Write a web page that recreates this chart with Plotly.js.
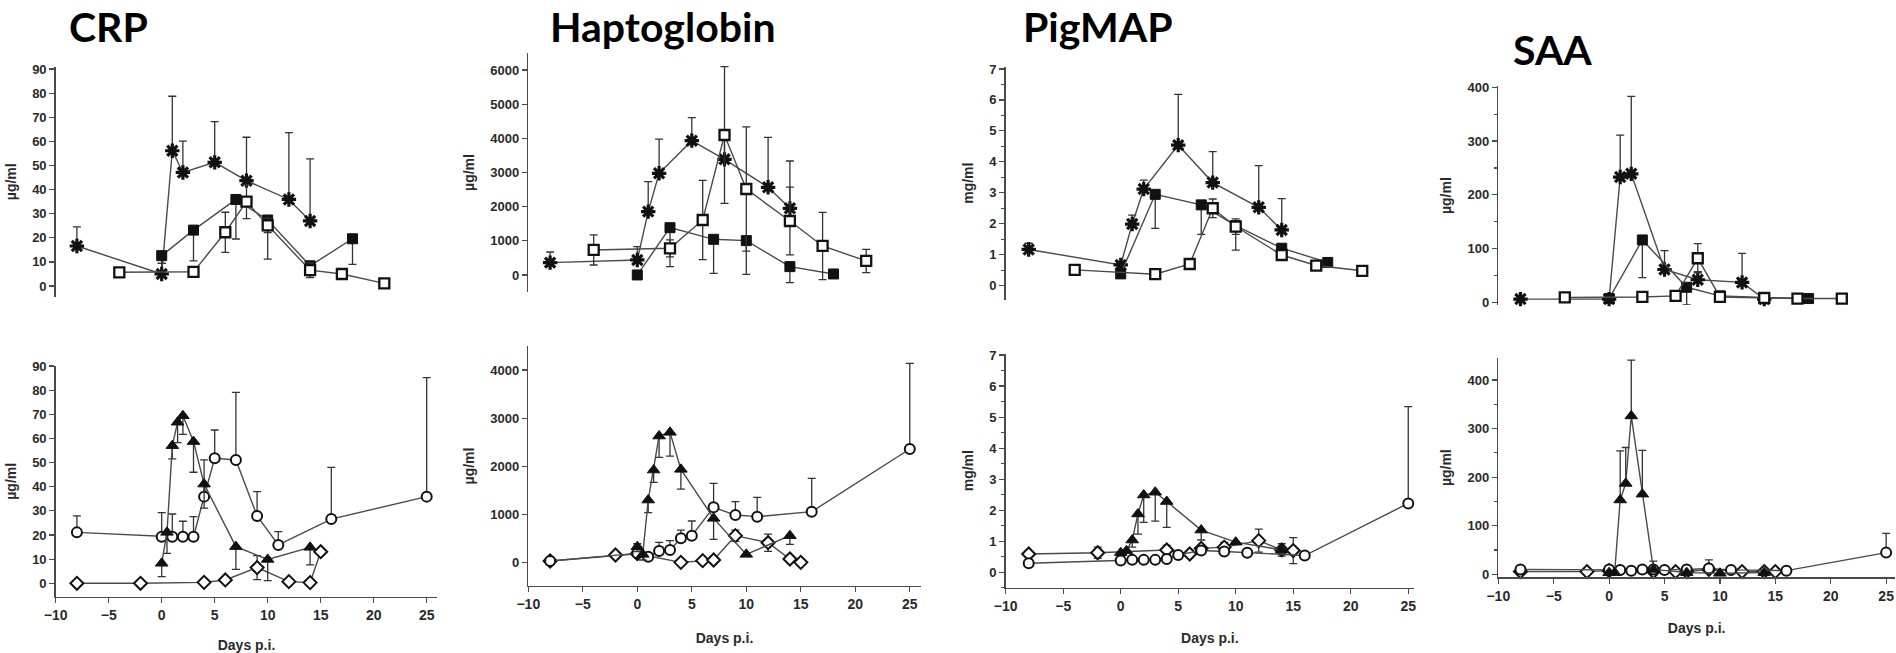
<!DOCTYPE html>
<html>
<head>
<meta charset="utf-8">
<script src="https://cdn.plot.ly/plotly-3.0.1.min.js"></script>
<style>html,body{margin:0;padding:0;background:#fff;}#chart{width:1896px;height:653px;}</style>
</head>
<body>
<div id="chart"></div>
<script>
// ---------------- DATA ----------------
const panelTitles = ["CRP", "Haptoglobin", "PigMAP", "SAA"];
const yUnits = ["µg/ml", "µg/ml", "mg/ml", "µg/ml"];
const xTitle = "Days p.i.";
const xTickVals = [-10, -5, 0, 5, 10, 15, 20, 25];

// Top row: star series
const starX = [-8, 0, 1, 2, 5, 8, 12, 14];
const crpStarY = [16.6, 5.0, 56.1, 47.1, 51.3, 43.7, 35.9, 27.0];
const crpStarErr = [7.9, 4.4, 22.6, 13.0, 16.9, 18.0, 27.7, 25.7];
const hapStarY = [361, 439, 1854, 2976, 3932, 3385, 2566, 1951];
const hapStarErr = [312, 390, 878, 1004, 673, 600, 1463, 1386];
const pigStarY = [1.17, 0.67, 1.99, 3.12, 4.54, 3.33, 2.53, 1.80];
const pigStarErr = [0.2, 0.05, 0.29, 0.29, 1.64, 1.0, 1.35, 1.01];
const saaStarY = [6, 6, 233, 239, 61, 42, 37, 6];
const saaStarErr = [0, 0, 78, 144, 35, 15, 54, 0];

// Top row: filled-square series
const fsqX = [0, 3, 7, 10, 14, 18];
const crpFsqY = [12.6, 23.2, 35.9, 27.4, 8.4, 19.6];
const crpFsqErr = [3.2, 12.8, 16.4, 16.2, 4.9, 10.6];
const hapFsqY = [0, 1385, 1044, 1005, 244, 29];
const hapFsqErr = [0, 1140, 995, 985, 468, 0];
const pigFsqY = [0.38, 2.95, 2.61, 1.94, 1.21, 0.75];
const pigFsqErr = [0, 1.1, 0.95, 0.79, 0.1, 0];
const saaFsqY = [7, 116, 28, 12, 9, 7];
const saaFsqErr = [0, 70, 33, 0, 0, 0];

// Top row: open-square series
const osqX = [-4, 3, 6, 8, 10, 14, 17, 21];
const crpOsqY = [5.7, 5.9, 22.3, 35.0, 25.2, 6.6, 5.0, 1.1];
const crpOsqErr = [0, 0, 8.3, 7.0, 3.0, 3.0, 0, 0];
const hapOsqY = [732, 780, 1610, 4098, 2517, 1580, 849, 410];
const hapOsqErr = [440, 250, 1160, 2000, 1820, 990, 985, 340];
const pigOsqY = [0.51, 0.37, 0.70, 2.50, 1.91, 0.99, 0.65, 0.48];
const pigOsqErr = [0, 0, 0, 0.3, 0.25, 0.15, 0, 0];
const saaOsqY = [9, 10, 12, 82, 10, 8, 7, 7];
const saaOsqErr = [0, 0, 0, 27, 0, 0, 0, 0];

// Bottom row: circle series
const circX = [-8, 0, 1, 2, 3, 4, 5, 7, 9, 11, 16, 25];
const crpCircY = [21.1, 19.3, 19.3, 19.3, 19.3, 35.9, 51.8, 51.1, 27.9, 15.9, 26.6, 35.9];
const crpCircErr = [6.8, 10, 9.4, 6.4, 8.3, 15.2, 11.7, 28, 10.1, 5.5, 21.4, 49.3];
const hapCircY = [28, 187, 118, 236, 256, 499, 555, 1144, 984, 950, 1054, 2357];
const hapCircErr = [0, 200, 0, 180, 194, 173, 305, 499, 278, 402, 693, 1782];
const pigCircY = [0.29, 0.38, 0.40, 0.40, 0.40, 0.43, 0.56, 0.70, 0.67, 0.63, 0.54, 2.22];
const pigCircErr = [0, 0, 0, 0, 0, 0, 0, 0, 0, 0, 0, 3.12];
const saaCircY = [10, 10, 9, 7.5, 10, 10, 9, 10, 12, 9, 7.5, 44.6];
const saaCircErr = [0, 0, 0, 0, 0, 0, 0, 0, 17.5, 0, 0, 39.8];

// Bottom row: triangle series
const triX = [0, 0.5, 1, 1.5, 2, 3, 4, 7, 10, 14];
const crpTriY = [8.3, 21.1, 57.0, 66.7, 69.4, 58.7, 41.1, 15.2, 9.9, 14.9];
const crpTriErr = [5.5, 8.7, 5.5, 8.4, 7.7, 12.7, 10, 9.4, 8.8, 7.3];
const hapTriY = [326, 166, 1296, 1920, 2627, 2704, 1934, 915, 166, 555];
const hapTriErr = [100, 117, 263, 256, 443, 493, 409, 437, 0, 181];
const pigTriY = [0.63, 0.69, 1.04, 1.88, 2.49, 2.58, 2.28, 1.36, 0.97, 0.72];
const pigTriErr = [0, 0, 0.23, 0.65, 0.88, 0.93, 0.83, 0.32, 0, 0.13];
const saaTriY = [3.4, 3.4, 153, 187, 326, 165, 10, 3.4, 2, 3.4];
const saaTriErr = [0, 0, 101, 74, 115, 90, 17, 0, 0, 0];

// Bottom row: diamond series
const crpDiaX = [-8, -2, 4, 6, 9, 12, 14, 15];
const crpDiaY = [0, 0, 0.4, 1.4, 6.5, 0.7, 0.3, 13.1];
const crpDiaErr = [0, 0, 0, 0, 5, 0, 0, 0];
const hapDiaX = [-8, -2, 0, 4, 6, 7, 9, 12, 14, 15];
const hapDiaY = [28, 153, 180, 0, 35, 49, 555, 409, 69, 0];
const hapDiaErr = [0, 0, 0, 0, 0, 0, 117, 180, 0, 0];
const pigDiaX = [-8, -2, 4, 6, 7, 9, 12, 14, 15];
const pigDiaY = [0.59, 0.63, 0.72, 0.59, 0.77, 0.81, 1.02, 0.72, 0.70];
const pigDiaErr = [0, 0.18, 0.15, 0, 0.05, 0.15, 0.37, 0.2, 0.42];
const saaDiaX = [-8, -2, 0, 4, 6, 7, 9, 12, 14, 15];
const saaDiaY = [5.5, 5.5, 7.5, 5.5, 5.5, 5.5, 10, 5.5, 5.5, 5.5];
const saaDiaErr = [0, 0, 0, 0, 0, 0, 0, 0, 0, 0];

// ---------------- STYLES / GEOMETRY ----------------
const W = 1896, H = 653;
const INK = '#111';
const LINE = '#4a4a4a';
const styles = {
  star: {symbol: 'asterisk-open', size: 12, color: INK, line: {color: INK, width: 3.2}},
  fsq:  {symbol: 'square', size: 10, color: INK, line: {color: INK, width: 1}},
  osq:  {symbol: 'square', size: 10, color: '#fff', line: {color: INK, width: 2.3}},
  circ: {symbol: 'circle', size: 10, color: '#fff', line: {color: INK, width: 2}},
  tri:  {symbol: 'triangle-up', size: 11, color: INK, line: {color: INK, width: 1}},
  dia:  {symbol: 'diamond', size: 10, color: '#fff', line: {color: INK, width: 2}}
};

// pixel boxes: [left, right, top, bottom], ranges
const panels = [
  {px: [55.7, 437.3, 66.6, 296.9], xr: [-10, 26], yr: [-4.5, 91], dt: 10, minor: null, top: true},
  {px: [528.3, 920.7, 53.3, 291.7], xr: [-10, 26], yr: [-490, 6490], dt: 1000, minor: null, top: true},
  {px: [1005.7, 1414.0, 66.5, 299.9], xr: [-10, 25.5], yr: [-0.46, 7.08], dt: 1, minor: 0.5, top: true},
  {px: [1498.3, 1895.0, 86.2, 305.0], xr: [-10, 25.8], yr: [-5, 402], dt: 100, minor: 50, top: true},
  {px: [55.7, 437.3, 366.0, 596.6], xr: [-10, 26], yr: [-5.5, 90], dt: 10, minor: null, top: false, st: 28},
  {px: [528.3, 920.7, 346.0, 585.9], xr: [-10, 26], yr: [-490, 4500], dt: 1000, minor: null, top: false, st: 22},
  {px: [1005.7, 1414.0, 353.5, 587.8], xr: [-10, 25.5], yr: [-0.5, 7.05], dt: 1, minor: 0.5, top: false, st: 20},
  {px: [1498.3, 1895.0, 358.1, 577.2], xr: [-10, 25.8], yr: [-6, 445], dt: 100, minor: 50, top: false, st: 20}
];

function zeros(n) { return new Array(n).fill(0); }
function series(p, name, x, y, err, kind, dir) {
  const n = x.length;
  const e = {type: 'data', visible: true, symmetric: false, color: '#333', thickness: 1.3, width: 4,
    array: dir === 'down' ? zeros(n) : err,
    arrayminus: dir === 'up' ? zeros(n) : err};
  return {
    type: 'scatter', mode: 'lines+markers', name: name, showlegend: false,
    x: x, y: y, xaxis: 'x' + (p + 1), yaxis: 'y' + (p + 1),
    line: {color: LINE, width: 1.4},
    marker: styles[kind], error_y: e, cliponaxis: false
  };
}

const traces = [
  series(0, 'CRP star', starX, crpStarY, crpStarErr, 'star', 'up'),
  series(0, 'CRP filled square', fsqX, crpFsqY, crpFsqErr, 'fsq', 'down'),
  series(0, 'CRP open square', osqX, crpOsqY, crpOsqErr, 'osq', 'both'),
  series(1, 'Hp star', starX, hapStarY, hapStarErr, 'star', 'up'),
  series(1, 'Hp filled square', fsqX, hapFsqY, hapFsqErr, 'fsq', 'down'),
  series(1, 'Hp open square', osqX, hapOsqY, hapOsqErr, 'osq', 'both'),
  series(2, 'PigMAP star', starX, pigStarY, pigStarErr, 'star', 'up'),
  series(2, 'PigMAP filled square', fsqX, pigFsqY, pigFsqErr, 'fsq', 'down'),
  series(2, 'PigMAP open square', osqX, pigOsqY, pigOsqErr, 'osq', 'both'),
  series(3, 'SAA star', starX, saaStarY, saaStarErr, 'star', 'up'),
  series(3, 'SAA filled square', fsqX, saaFsqY, saaFsqErr, 'fsq', 'down'),
  series(3, 'SAA open square', osqX, saaOsqY, saaOsqErr, 'osq', 'both'),
  series(4, 'CRP diamond', crpDiaX, crpDiaY, crpDiaErr, 'dia', 'both'),
  series(4, 'CRP circle', circX, crpCircY, crpCircErr, 'circ', 'up'),
  series(4, 'CRP triangle', triX, crpTriY, crpTriErr, 'tri', 'down'),
  series(5, 'Hp diamond', hapDiaX, hapDiaY, hapDiaErr, 'dia', 'both'),
  series(5, 'Hp circle', circX, hapCircY, hapCircErr, 'circ', 'up'),
  series(5, 'Hp triangle', triX, hapTriY, hapTriErr, 'tri', 'down'),
  series(6, 'PigMAP diamond', pigDiaX, pigDiaY, pigDiaErr, 'dia', 'both'),
  series(6, 'PigMAP circle', circX, pigCircY, pigCircErr, 'circ', 'up'),
  series(6, 'PigMAP triangle', triX, pigTriY, pigTriErr, 'tri', 'down'),
  series(7, 'SAA diamond', saaDiaX, saaDiaY, saaDiaErr, 'dia', 'both'),
  series(7, 'SAA circle', circX, saaCircY, saaCircErr, 'circ', 'up'),
  series(7, 'SAA triangle', triX, saaTriY, saaTriErr, 'tri', 'up')
];

const tickFont = {family: 'Liberation Sans, Arial, sans-serif', size: 13, color: '#2a2a2a', weight: 'bold'};
const titleFont = {family: 'Liberation Sans, Arial, sans-serif', size: 14, color: '#2a2a2a', weight: 'bold'};

const layout = {
  width: W, height: H, margin: {l: 0, r: 0, t: 0, b: 0},
  paper_bgcolor: '#fff', plot_bgcolor: 'rgba(0,0,0,0)', showlegend: false,
  annotations: []
};

panels.forEach((p, i) => {
  const k = i + 1;
  const xd = [p.px[0] / W, p.px[1] / W];
  const yd = [1 - p.px[3] / H, 1 - p.px[2] / H];
  const xa = {
    domain: xd, range: p.xr, anchor: 'y' + k, showgrid: false, zeroline: false
  };
  if (p.top) {
    xa.visible = false;
  } else {
    Object.assign(xa, {
      showline: true, linecolor: LINE, linewidth: 1.5, ticks: 'outside', ticklen: 5,
      tickcolor: LINE, tickwidth: 1.2, tickvals: xTickVals, tickfont: Object.assign({}, tickFont, {size: 14}),
      title: {text: xTitle, font: titleFont, standoff: p.st}
    });
  }
  const ya = {
    domain: yd, range: p.yr, anchor: 'x' + k, showgrid: false, zeroline: false,
    showline: true, linecolor: LINE, linewidth: 1.5, ticks: 'outside', ticklen: 5,
    tickcolor: LINE, tickwidth: 1.2, tick0: 0, dtick: p.dt, tickfont: tickFont,
    title: {text: yUnits[i % 4], font: titleFont, standoff: 12}
  };
  if (p.minor) ya.minor = {dtick: p.minor, ticklen: 3, tickcolor: LINE, ticks: 'outside', showgrid: false};
  layout['xaxis' + (k === 1 ? '' : k)] = xa;
  layout['yaxis' + (k === 1 ? '' : k)] = ya;
});

// panel titles
const titlePos = [[108, 27], [663, 27], [1098, 27], [1552, 50]];
panelTitles.forEach((t, i) => {
  layout.annotations.push({
    text: t, xref: 'paper', yref: 'paper', x: titlePos[i][0] / W, y: 1 - titlePos[i][1] / H,
    xanchor: 'center', yanchor: 'middle', showarrow: false,
    font: {family: 'Lato, Open Sans, sans-serif', size: 41, color: '#000', weight: 'bold'}
  });
});

Plotly.newPlot('chart', traces, layout, {staticPlot: true, displayModeBar: false});
</script>
</body>
</html>
